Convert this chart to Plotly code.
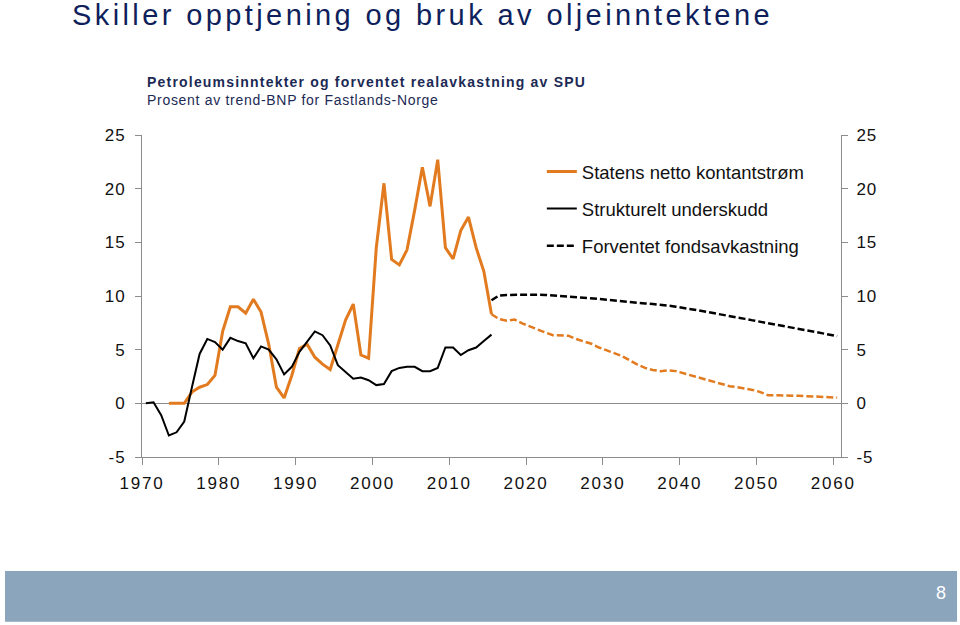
import plotly.graph_objects as go

# Strukturelt underskudd, 1970-2015
deficit_years = list(range(1970, 2016))
deficit = [0.0, 0.1, -1.1, -3.0, -2.7, -1.7, 1.5, 4.6, 6.0, 5.7,
           5.0, 6.1, 5.8, 5.6, 4.2, 5.3, 5.0, 4.1, 2.7, 3.4,
           4.8, 5.7, 6.7, 6.35, 5.4, 3.55, 2.9, 2.3, 2.4, 2.15,
           1.7, 1.8, 3.0, 3.3, 3.4, 3.4, 3.0, 3.0, 3.3, 5.2,
           5.2, 4.5, 4.95, 5.2, 5.8, 6.4]

# Statens netto kontantstrøm, 1973-2015
cash_years = list(range(1973, 2016))
cash = [0.0, 0.0, 0.0, 1.05, 1.5, 1.75, 2.6, 6.7, 9.0, 9.0,
        8.4, 9.7, 8.5, 5.5, 1.5, 0.5, 2.6, 5.1, 5.5, 4.3,
        3.65, 3.15, 5.4, 7.75, 9.25, 4.5, 4.2, 14.5, 20.5, 13.4,
        12.9, 14.3, 18.0, 22.0, 18.35, 22.7, 14.5, 13.45, 16.1, 17.35,
        14.5, 12.3, 8.3]

# Framskrivinger, 2015-2060
proj_years = list(range(2015, 2061))
cash_proj = [8.3, 7.85, 7.7, 7.8, 7.45, 7.15, 6.9, 6.6, 6.35, 6.3,
             6.3, 6.0, 5.8, 5.55, 5.2, 4.95, 4.65, 4.4, 4.0, 3.6,
             3.3, 3.1, 3.0, 3.07, 3.0, 2.8, 2.6, 2.4, 2.15, 1.95,
             1.8, 1.6, 1.5, 1.4, 1.25, 1.05, 0.75, 0.75, 0.75, 0.73,
             0.7, 0.67, 0.63, 0.6, 0.55, 0.53]
fund_return = [9.6, 10.05, 10.1, 10.12, 10.13, 10.13, 10.12, 10.1, 10.05, 10.0,
               9.97, 9.93, 9.87, 9.8, 9.73, 9.66, 9.58, 9.52, 9.45, 9.37,
               9.3, 9.25, 9.2, 9.1, 9.0, 8.9, 8.78, 8.65, 8.52, 8.4,
               8.28, 8.15, 8.0, 7.87, 7.73, 7.6, 7.47, 7.35, 7.22, 7.08,
               6.95, 6.8, 6.68, 6.55, 6.4, 6.27]

y_ticks = [-5, 0, 5, 10, 15, 20, 25]
y_labels = ["-5", "0", "5", "10", "15", "20", "25"]
x_ticks = list(range(1970, 2061, 10))

ORANGE = "#E27B1F"
FONT = "Liberation Sans, Arial, sans-serif"
AXIS_GREY = "#8c8c8c"


def mid(years):
    # Excel-style category axis: points sit in the middle of each year
    return [y + 0.5 for y in years]


def spaced(text, px):
    return '<span style="letter-spacing:%spx">%s</span>' % (px, text)


fig = go.Figure()

fig.add_trace(go.Scatter(
    x=mid(cash_years), y=cash, mode="lines",
    name="Statens netto kontantstrøm", legendgroup="a",
    line=dict(color=ORANGE, width=3)
))
fig.add_trace(go.Scatter(
    x=mid(deficit_years), y=deficit, mode="lines",
    name="Strukturelt underskudd", legendgroup="b",
    line=dict(color="#000000", width=2)
))
fig.add_trace(go.Scatter(
    x=mid(proj_years), y=fund_return, mode="lines",
    name="Forventet fondsavkastning", legendgroup="c",
    line=dict(color="#000000", width=2.5, dash="7px,3px"),
    yaxis="y2"
))
fig.add_trace(go.Scatter(
    x=mid(proj_years), y=cash_proj, mode="lines",
    showlegend=False,
    line=dict(color=ORANGE, width=2.5, dash="7px,3px"),
    yaxis="y2"
))

axis_font = dict(family=FONT, size=17, color="#111111")
y_text = [spaced(t, 1) for t in y_labels]

fig.update_layout(
    width=960,
    height=625,
    margin=dict(l=142, r=119, t=135, b=168),
    plot_bgcolor="white",
    paper_bgcolor="white",
    font=dict(family=FONT),
    xaxis=dict(
        range=[1970, 2061],
        tickvals=x_ticks,
        ticktext=[spaced(str(t), 1.8) for t in x_ticks],
        showgrid=False, zeroline=False,
        showline=True, linecolor=AXIS_GREY, linewidth=1,
        ticks="outside", ticklen=7, tickcolor=AXIS_GREY,
        ticklabelstandoff=4,
        tickfont=axis_font
    ),
    yaxis=dict(
        range=[-5, 25],
        tickvals=y_ticks,
        ticktext=y_text,
        showgrid=False,
        zeroline=True, zerolinecolor=AXIS_GREY, zerolinewidth=1,
        showline=True, linecolor=AXIS_GREY, linewidth=1,
        ticks="outside", ticklen=6, tickcolor=AXIS_GREY,
        ticklabelstandoff=6,
        tickfont=axis_font
    ),
    yaxis2=dict(
        range=[-5, 25],
        tickvals=y_ticks,
        ticktext=y_text,
        overlaying="y", side="right",
        showgrid=False, zeroline=False,
        showline=True, linecolor=AXIS_GREY, linewidth=1,
        ticks="outside", ticklen=6, tickcolor=AXIS_GREY,
        ticklabelstandoff=5,
        tickfont=axis_font
    ),
    legend=dict(
        x=0.572, y=0.944,
        xanchor="left", yanchor="top",
        bgcolor="rgba(0,0,0,0)",
        font=dict(family=FONT, size=18.5, color="#111111"),
        tracegroupgap=10
    ),
    showlegend=True
)

# heading and subheading
fig.add_annotation(
    text=spaced("Skiller opptjening og bruk av oljeinntektene", 3.4),
    xref="paper", yref="paper", x=-0.103, y=1.374,
    xanchor="left", yanchor="middle", showarrow=False,
    font=dict(family=FONT, size=29, color="#0f1f5c")
)
fig.add_annotation(
    text="<b>" + spaced("Petroleumsinntekter og forventet realavkastning av SPU", 1.2) + "</b>",
    xref="paper", yref="paper", x=0.005, y=1.165,
    xanchor="left", yanchor="middle", showarrow=False,
    font=dict(family=FONT, size=14, color="#1c2a55")
)
fig.add_annotation(
    text=spaced("Prosent av trend-BNP for Fastlands-Norge", 0.7),
    xref="paper", yref="paper", x=0.005, y=1.109,
    xanchor="left", yanchor="middle", showarrow=False,
    font=dict(family=FONT, size=14, color="#1c2a55")
)

# footer band with page number
fig.add_shape(
    type="rect", xref="paper", yref="paper",
    x0=-0.196, x1=1.166, y0=-0.512, y1=-0.354,
    fillcolor="#8BA5BD", line=dict(width=0), layer="below"
)
fig.add_annotation(
    text="8", xref="paper", yref="paper", x=1.143, y=-0.423,
    xanchor="center", yanchor="middle", showarrow=False,
    font=dict(family=FONT, size=18, color="white")
)

# the page's default body margin would push the figure 8px in
fig.write_html(
    "out.html",
    config={"displayModeBar": False},
    post_script="document.body.style.margin='0';"
)
